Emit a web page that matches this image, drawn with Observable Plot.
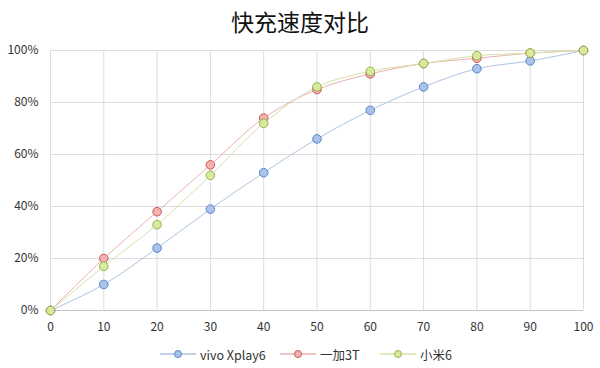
<!DOCTYPE html>
<html>
<head>
<meta charset="utf-8">
<script src="https://cdn.jsdelivr.net/npm/d3@7"></script>
<script src="https://cdn.jsdelivr.net/npm/@observablehq/plot@0.6"></script>
<style>
  html, body { margin: 0; padding: 0; background: #fff; }
  body { width: 600px; height: 368px; overflow: hidden; font-family: "Noto Sans CJK SC", "Noto Sans", sans-serif; }
  #title { height: 40px; line-height: 42px; text-align: center; font-size: 23px; color: #111; }
  #legend { position: relative; height: 28px; font-size: 12.5px; color: #333; }
  .item { position: absolute; top: 4px; display: flex; align-items: center; height: 20px; }
  .item svg { margin-right: 4px; }
</style>
</head>
<body>
<div id="title">快充速度对比</div>
<div id="chart"></div>
<div id="legend"></div>
<script>
const xValues = [0, 10, 20, 30, 40, 50, 60, 70, 80, 90, 100];
const seriesNames = ["vivo Xplay6", "一加3T", "小米6"];
const vivoXplay6 = [0, 10, 24, 39, 53, 66, 77, 86, 93, 96, 100];
const oneplus3T = [0, 20, 38, 56, 74, 85, 91, 95, 97, 99, 100];
const xiaomi6 = [0, 17, 33, 52, 72, 86, 92, 95, 98, 99, 100];
const yTicks = [0, 20, 40, 60, 80, 100];

const lineColors = ["#aec2e2", "#eab0b0", "#d6e2a8"];
const dotFill = ["#a9c3ea", "#f4b2b0", "#d8ea9c"];
const dotStroke = ["#5a86c4", "#c45a56", "#93b350"];

const seriesValues = [vivoXplay6, oneplus3T, xiaomi6];
const data = [];
seriesValues.forEach((vals, si) => {
  vals.forEach((v, i) => data.push({series: seriesNames[si], idx: si, x: xValues[i], y: v}));
});

const marks = [
  Plot.gridX(xValues, {stroke: "#dcdcdc", strokeOpacity: 1, strokeWidth: 1}),
  Plot.gridY(yTicks, {stroke: "#dcdcdc", strokeOpacity: 1, strokeWidth: 1}),
  Plot.ruleY([0], {stroke: "#c4c4c4"}),
  Plot.axisX({ticks: xValues, tickSize: 0, tickPadding: 12, fontSize: 12, color: "#333", label: null}),
  Plot.axisY({ticks: yTicks, tickSize: 0, tickPadding: 12, fontSize: 12, color: "#333", label: null, tickFormat: d => d + "%"})
];
seriesNames.forEach((name, si) => {
  marks.push(Plot.line(data.filter(d => d.idx === si), {x: "x", y: "y", curve: "catmull-rom", stroke: lineColors[si], strokeWidth: 1}));
});
seriesNames.forEach((name, si) => {
  marks.push(Plot.dot(data.filter(d => d.idx === si), {x: "x", y: "y", r: 4.3, fill: dotFill[si], stroke: dotStroke[si], strokeWidth: 1}));
});

const chart = Plot.plot({
  width: 600,
  height: 300,
  marginTop: 10,
  marginBottom: 30,
  marginLeft: 50,
  marginRight: 17,
  style: {fontFamily: "'Noto Sans CJK SC', 'Noto Sans', sans-serif", background: "#fff", overflow: "visible"},
  x: {domain: [0, 100]},
  y: {domain: [0, 100]},
  marks
});
document.getElementById("chart").appendChild(chart);

// legend
const legendPos = [160, 280, 380];
const legend = document.getElementById("legend");
seriesNames.forEach((name, si) => {
  const el = document.createElement("div");
  el.className = "item";
  el.style.left = legendPos[si] + "px";
  el.innerHTML = `<svg width="36" height="12"><line x1="0" x2="36" y1="6" y2="6" stroke="${lineColors[si]}" stroke-width="1.5"/><circle cx="18" cy="6" r="3.5" fill="${dotFill[si]}" stroke="${dotStroke[si]}"/></svg><span>${name}</span>`;
  legend.appendChild(el);
});
</script>
</body>
</html>
